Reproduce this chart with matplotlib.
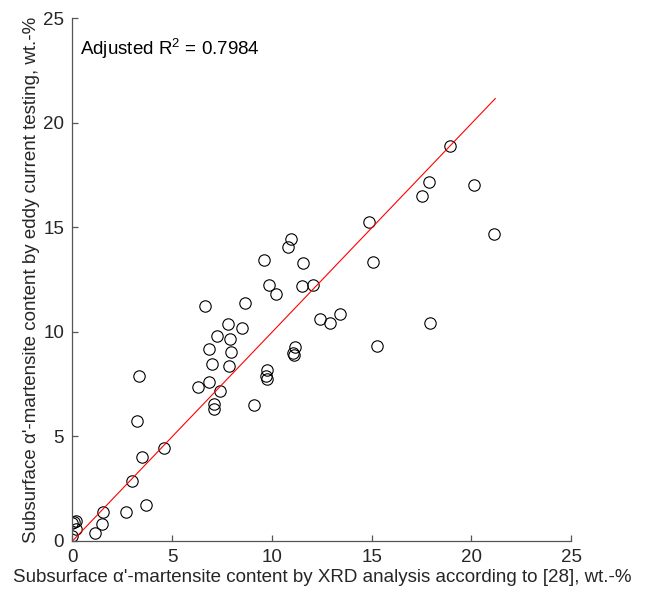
import matplotlib
matplotlib.use("Agg")
import matplotlib.pyplot as plt

plt.rcParams['font.family'] = ['Liberation Sans', 'DejaVu Sans']
plt.rcParams['mathtext.fontset'] = 'custom'
plt.rcParams['mathtext.rm'] = 'Liberation Sans'
plt.rcParams['mathtext.it'] = 'Liberation Sans'

xrd = [0.0, 0.07, 0.2, 0.2, 0.0, 1.12, 1.46, 1.51, 2.68, 3.68, 3.0, 3.51, 4.58, 3.25, 3.36,
       6.31, 6.83, 7.4, 7.11, 7.09, 9.12, 7.01, 7.85, 7.93, 6.84, 7.88, 7.26, 7.81, 8.5,
       6.63, 8.63, 9.74, 9.71, 9.77, 11.16, 11.06, 11.11, 12.41, 12.92, 13.39, 18.91,
       17.86, 17.54, 20.11, 21.15, 14.89, 15.08, 17.92, 15.26, 10.94, 10.81, 11.58,
       11.53, 12.08, 10.2, 9.59, 9.84]
eddy = [0.24, 0.91, 0.96, 0.57, 0.88, 0.37, 0.83, 1.4, 1.39, 1.72, 2.87, 4.03, 4.45, 5.72, 7.9,
        7.36, 7.62, 7.15, 6.53, 6.29, 6.5, 8.45, 8.38, 9.05, 9.19, 9.66, 9.78, 10.37, 10.2,
        11.22, 11.39, 8.16, 7.89, 7.73, 9.29, 8.97, 8.88, 10.61, 10.42, 10.83, 18.87,
        17.16, 16.48, 17.03, 14.68, 15.25, 13.34, 10.41, 9.34, 14.45, 14.07, 13.29,
        12.19, 12.22, 11.8, 13.42, 12.24]

fit_x = [0.0, 21.2]
fit_y = [0.0, 21.15]

ticks = [0, 5, 10, 15, 20, 25]
r2_text = r'Adjusted R$^2$ = 0.7984'

fig = plt.figure(figsize=(6.46, 5.93), dpi=100)
ax = fig.add_axes([0.1122, 0.0877, 0.884 - 0.1122, 0.9696 - 0.0877])

ax.plot(xrd, eddy, linestyle='none', marker='o', markersize=8.2,
        markerfacecolor='none', markeredgecolor='black', markeredgewidth=0.8)
ax.plot(fit_x, fit_y, color='red', linewidth=0.8)

ax.set_xlim(0, 25)
ax.set_ylim(0, 25)
ax.set_xticks(ticks)
ax.set_yticks(ticks)
ax.spines['top'].set_visible(False)
ax.spines['right'].set_visible(False)
for s in ['left', 'bottom']:
    ax.spines[s].set_color('#555555')
    ax.spines[s].set_linewidth(0.9)
ax.tick_params(direction='in', length=4, width=0.9, color='#555555',
               labelsize=13.5, labelcolor='#262626', pad=6)

ax.set_xlabel("Subsurface α'-martensite content by XRD analysis according to [28], wt.-%",
              fontsize=13.5, color='#262626', labelpad=2)
ax.set_ylabel("Subsurface α'-martensite content by eddy current testing, wt.-%",
              fontsize=13.5, color='#262626', labelpad=2)

ax.text(0.4, 23.5, r2_text, fontsize=13.5, color='black', va='center', ha='left')

fig.savefig('out.png', dpi=100)
